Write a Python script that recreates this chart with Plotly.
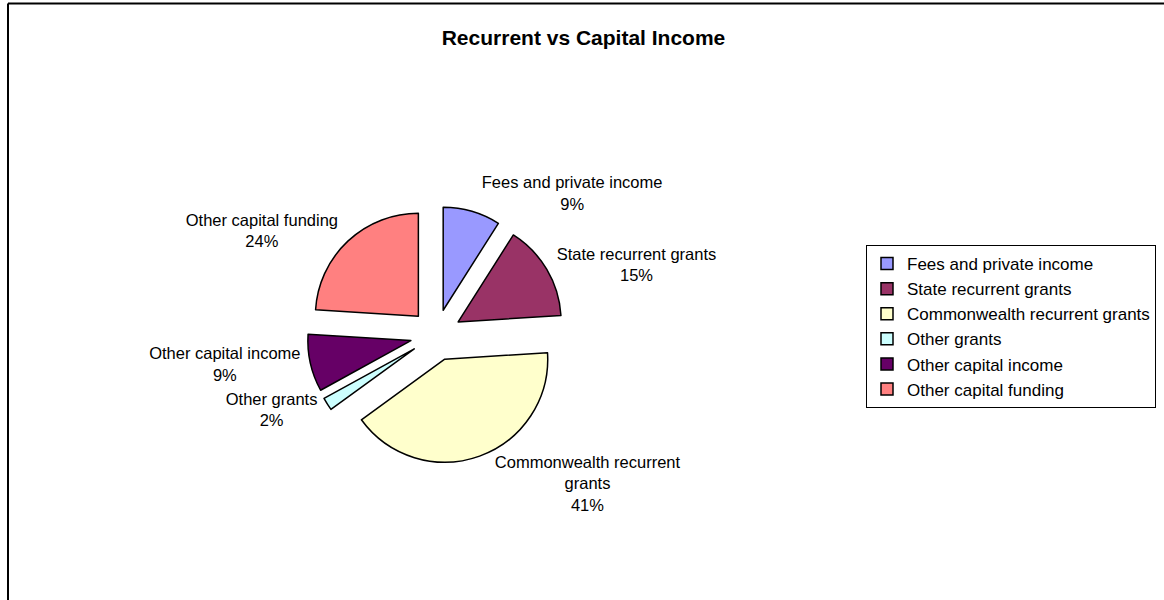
import plotly.graph_objects as go

categories = ["Fees and private income", "State recurrent grants", "Commonwealth recurrent grants",
              "Other grants", "Other capital income", "Other capital funding"]
display_labels = ["Fees and private income", "State recurrent grants", "Commonwealth recurrent<br>grants",
                  "Other grants", "Other capital income", "Other capital funding"]
values = [9, 15, 41, 2, 9, 24]
colors = ["#9999FF", "#993366", "#FFFFCC", "#CCFFFF", "#660066", "#FF8080"]

W, H = 1164, 600
FONT = "Liberation Sans, Arial, sans-serif"

# pie geometry (pixels)
cx, cy, r, pull = 436, 335, 103, 0.25
half = r * (1 + pull)

fig = go.Figure(go.Pie(
    labels=categories,
    values=values,
    text=display_labels,
    texttemplate="%{text}<br>%{percent:.0%}",
    textposition="outside",
    textfont=dict(family=FONT, size=16.5, color="black"),
    marker=dict(colors=colors, line=dict(color="black", width=1.5)),
    pull=[pull] * len(values),
    sort=False,
    direction="clockwise",
    rotation=0,
    hole=0,
    domain=dict(x=[(cx - half) / W, (cx + half) / W],
                y=[1 - (cy + half) / H, 1 - (cy - half) / H]),
    showlegend=True,
))

fig.update_layout(
    width=W, height=H,
    margin=dict(l=0, r=0, t=0, b=0),
    paper_bgcolor="white",
    plot_bgcolor="white",
    font=dict(family=FONT, color="black"),
    title=dict(text="<b>Recurrent vs Capital Income</b>", x=583.5 / W, xanchor="center",
               y=1 - 38 / H, yanchor="middle",
               font=dict(family=FONT, size=21, color="black")),
    legend=dict(x=866 / W, y=1 - 245 / H, xanchor="left", yanchor="top",
                bordercolor="black", borderwidth=1, bgcolor="white",
                font=dict(family=FONT, size=17, color="black"),
                traceorder="normal"),
    shapes=[
        dict(type="line", xref="paper", yref="paper", x0=8 / W, x1=1.0, y0=1 - 3.5 / H, y1=1 - 3.5 / H,
             line=dict(color="black", width=2)),
        dict(type="line", xref="paper", yref="paper", x0=8 / W, x1=8 / W, y0=0, y1=1 - 3.5 / H,
             line=dict(color="black", width=2)),
    ],
)

fig.write_html("out.html")
